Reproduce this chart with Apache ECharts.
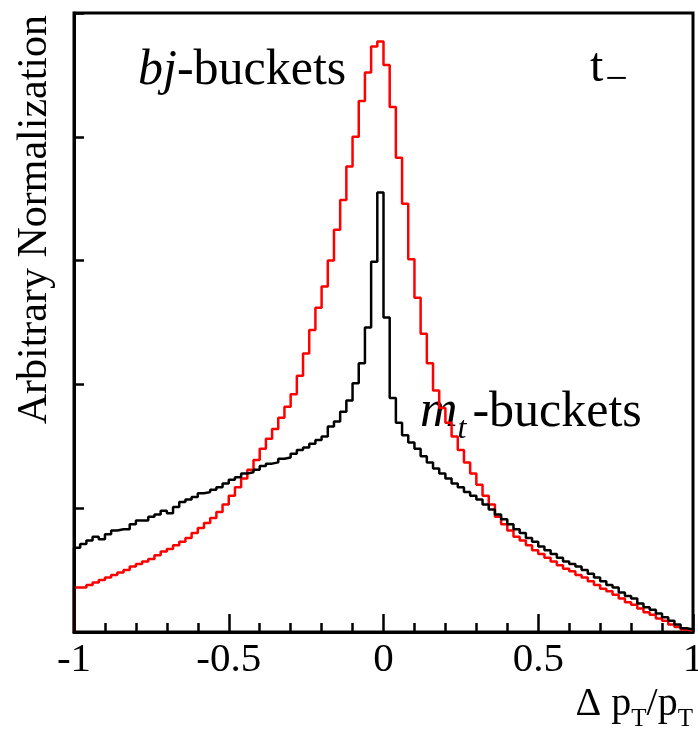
<!DOCTYPE html>
<html>
<head>
<meta charset="utf-8">
<script src="https://cdn.jsdelivr.net/npm/echarts@6/dist/echarts.min.js"></script>
<style>
  html, body { margin: 0; padding: 0; background: #ffffff; }
  #chart { width: 698px; height: 730px; }
</style>
</head>
<body>
<div id="chart"></div>
<script>
// Histogram binning: 100 bins of width 0.02 over [-1, 1]
const xMin = -1;
const xMax = 1;
const binWidth = 0.02;
const xTicks = [-1, -0.5, 0, 0.5, 1];

// bj-buckets (red), contents per bin, arbitrary normalization
const bjBuckets = [
  0.36, 0.36, 0.38, 0.40, 0.42, 0.44, 0.46, 0.48, 0.50, 0.53,
  0.55, 0.57, 0.59, 0.62, 0.65, 0.67, 0.70, 0.73, 0.76, 0.80,
  0.84, 0.88, 0.92, 0.97, 1.03, 1.10, 1.17, 1.24, 1.31, 1.39,
  1.48, 1.56, 1.64, 1.73, 1.82, 1.92, 2.07, 2.25, 2.44, 2.62,
  2.79, 3.00, 3.25, 3.49, 3.76, 4.00, 4.29, 4.52, 4.73, 4.77,
  4.58, 4.24, 3.83, 3.46, 3.01, 2.70, 2.41, 2.17, 1.95, 1.81,
  1.69, 1.58, 1.47, 1.37, 1.28, 1.19, 1.10, 1.03, 0.93, 0.87,
  0.82, 0.77, 0.74, 0.70, 0.66, 0.63, 0.60, 0.57, 0.54, 0.51,
  0.49, 0.46, 0.44, 0.41, 0.38, 0.35, 0.33, 0.30, 0.27, 0.24,
  0.22, 0.19, 0.16, 0.14, 0.11, 0.09, 0.06, 0.04, 0.02, 0.01
];

// m_t-buckets (black)
const mtBuckets = [
  0.68, 0.71, 0.74, 0.77, 0.75, 0.79, 0.82, 0.83, 0.83, 0.87,
  0.90, 0.90, 0.93, 0.95, 0.98, 0.96, 1.01, 1.05, 1.07, 1.09,
  1.12, 1.13, 1.15, 1.17, 1.20, 1.23, 1.25, 1.28, 1.29, 1.31,
  1.34, 1.36, 1.37, 1.40, 1.41, 1.44, 1.47, 1.49, 1.52, 1.55,
  1.58, 1.66, 1.70, 1.78, 1.87, 2.01, 2.17, 2.46, 2.99, 3.55,
  2.54, 1.89, 1.69, 1.59, 1.53, 1.48, 1.42, 1.37, 1.32, 1.28,
  1.24, 1.20, 1.17, 1.13, 1.10, 1.07, 1.03, 0.99, 0.95, 0.91,
  0.87, 0.83, 0.80, 0.76, 0.73, 0.69, 0.66, 0.63, 0.60, 0.57,
  0.55, 0.53, 0.50, 0.47, 0.44, 0.41, 0.38, 0.36, 0.32, 0.29,
  0.27, 0.23, 0.20, 0.18, 0.15, 0.12, 0.09, 0.06, 0.03, 0.02
];

// Outline of a histogram: start at zero on the low edge, one point per
// bin low edge, close on the high edge and drop back to zero.
function histOutline(values) {
  const pts = [[xMin, 0]];
  values.forEach((v, i) => pts.push([+(xMin + i * binWidth).toFixed(4), v]));
  pts.push([xMax, values[values.length - 1]]);
  pts.push([xMax, 0]);
  return pts;
}

const serif = "'Liberation Serif', 'Times New Roman', serif";

const chart = echarts.init(document.getElementById('chart'), null, { renderer: 'canvas' });

chart.setOption({
  animation: false,
  backgroundColor: '#ffffff',
  grid: {
    left: 74, right: 5, top: 13, bottom: 98,
    outerBoundsMode: 'none',
    containLabel: false,
    show: true, borderColor: '#000', borderWidth: 3, backgroundColor: 'transparent'
  },
  xAxis: {
    type: 'value',
    min: xMin, max: xMax, interval: 0.5,
    axisLine: { show: true, onZero: false, lineStyle: { color: '#000', width: 3 } },
    axisTick: { show: true, inside: true, length: 18, lineStyle: { color: '#000', width: 2.5 } },
    minorTick: { show: true, splitNumber: 5, length: 9, lineStyle: { color: '#000', width: 2.5 } },
    splitLine: { show: false },
    axisLabel: {
      color: '#000', fontFamily: serif, fontSize: 41, margin: 8,
      formatter: v => { const t = xTicks.find(x => Math.abs(x - v) < 1e-9); return t === undefined ? '' : String(t); }
    },
    name: '{n|Δ p}{s|T}{n|/p}{s|T}',
    nameLocation: 'end',
    nameGap: 0,
    nameTextStyle: {
      align: 'right', verticalAlign: 'top', padding: [50, 0, 0, 0],
      rich: {
        n: { fontFamily: serif, fontSize: 40, color: '#000', verticalAlign: 'bottom', lineHeight: 42 },
        s: { fontFamily: serif, fontSize: 25, color: '#000', verticalAlign: 'bottom', lineHeight: 26, padding: [0, 0, -8, 0] }
      }
    }
  },
  yAxis: {
    type: 'value',
    min: 0, max: 5, interval: 1,
    axisLine: { show: true, onZero: false, lineStyle: { color: '#000', width: 3 } },
    axisTick: { show: true, inside: true, length: 10, lineStyle: { color: '#000', width: 2.5 } },
    axisLabel: { show: false },
    splitLine: { show: false },
    name: 'Arbitrary Normalization',
    nameLocation: 'end',
    nameRotate: 90,
    nameGap: -2,
    nameTextStyle: {
      fontFamily: serif, fontSize: 42, color: '#000',
      align: 'right', verticalAlign: 'bottom', padding: [0, 0, 18, 0]
    }
  },
  graphic: [
    {
      type: 'text', left: 138, top: 46,
      style: {
        text: '{i|bj}{r|-buckets}',
        rich: {
          i: { fontFamily: serif, fontStyle: 'italic', fontSize: 50, fill: '#000' },
          r: { fontFamily: serif, fontSize: 50, fill: '#000' }
        }
      }
    },
    {
      type: 'text', left: 420, top: 386,
      style: {
        text: '{i|m}{s|t}{r|-buckets}',
        rich: {
          i: { fontFamily: serif, fontStyle: 'italic', fontSize: 52, fill: '#000', verticalAlign: 'bottom', lineHeight: 56 },
          s: { fontFamily: serif, fontStyle: 'italic', fontSize: 32, fill: '#000', verticalAlign: 'bottom', lineHeight: 32, padding: [0, 6, -8, 0] },
          r: { fontFamily: serif, fontSize: 50, fill: '#000', verticalAlign: 'bottom', lineHeight: 56 }
        }
      }
    },
    {
      type: 'text', left: 590, top: 44,
      style: {
        text: '{a|t}{s|−}',
        rich: {
          a: { fontFamily: serif, fontSize: 48, fill: '#000', verticalAlign: 'bottom', lineHeight: 50 },
          s: { fontFamily: serif, fontSize: 40, fill: '#000', verticalAlign: 'bottom', lineHeight: 36, padding: [0, 0, -8, 2] }
        }
      }
    }
  ],
  series: [
    {
      name: 'bj-buckets', type: 'line', step: 'end', symbol: 'none',
      data: histOutline(bjBuckets),
      lineStyle: { color: '#ff0000', width: 2.5 }, z: 3
    },
    {
      name: 'm_t-buckets', type: 'line', step: 'end', symbol: 'none',
      data: histOutline(mtBuckets),
      lineStyle: { color: '#000000', width: 2.5 }, z: 4
    }
  ]
});
</script>
</body>
</html>
